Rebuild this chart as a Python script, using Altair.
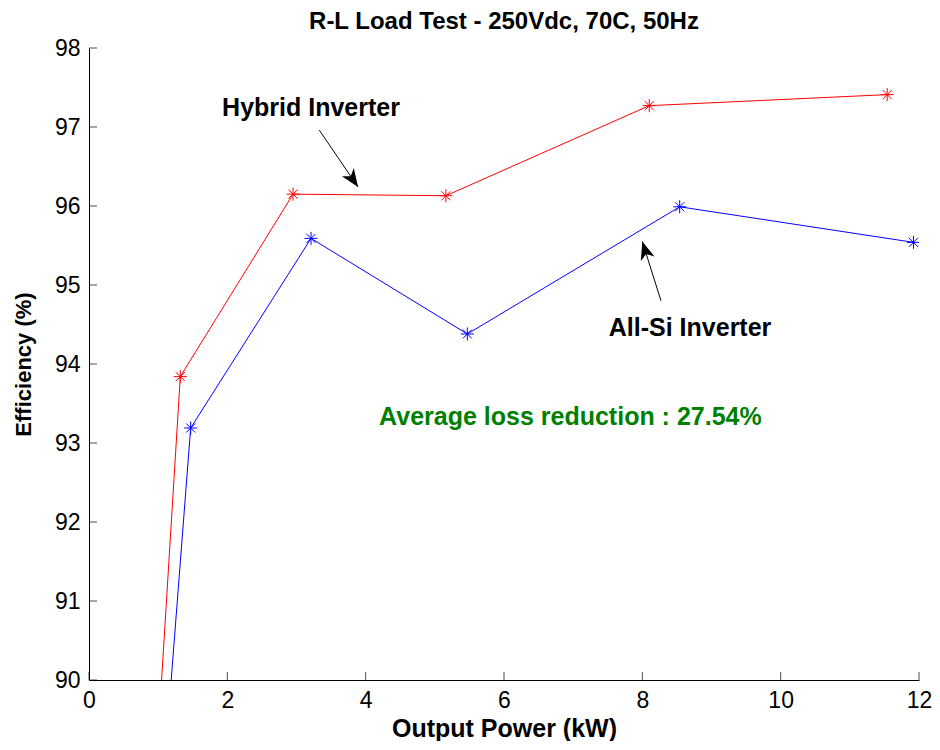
import altair as alt
import pandas as pd

# ---- data ----
hybrid_x = [1.0, 1.32, 2.95, 5.16, 8.10, 11.54]
hybrid_y = [89.3, 93.84, 96.15, 96.13, 97.27, 97.41]
allsi_x = [1.1, 1.47, 3.21, 5.47, 8.54, 11.92]
allsi_y = [89.0, 93.19, 95.59, 94.38, 95.99, 95.54]

x_ticks = [0, 2, 4, 6, 8, 10, 12]
y_ticks = [90, 91, 92, 93, 94, 95, 96, 97, 98]

# annotations: label text and positions (data coords)
label_text = ["Hybrid Inverter", "All-Si Inverter"]
label_x = [3.21, 8.69]
label_y = [97.24, 94.46]
note_text = ["Average loss reduction : 27.54%"]
note_x = [6.96]
note_y = [93.33]
# arrows: tail -> tip
arrow_x = [3.33, 8.27]
arrow_y = [96.96, 94.80]
arrow_x2 = [3.89, 8.00]
arrow_y2 = [96.24, 95.55]
arrow_angle = [145.5, 342.7]

FONT = "Liberation Sans, Arial, Helvetica, sans-serif"
NARROW = "Liberation Sans Narrow, Arial Narrow, Liberation Sans, sans-serif"

df_h = pd.DataFrame({"x": hybrid_x, "y": hybrid_y})
df_s = pd.DataFrame({"x": allsi_x, "y": allsi_y})
df_lab = pd.DataFrame({"x": label_x, "y": label_y, "t": label_text})
df_note = pd.DataFrame({"x": note_x, "y": note_y, "t": note_text})
df_arr = pd.DataFrame({"x": arrow_x, "y": arrow_y, "x2": arrow_x2, "y2": arrow_y2, "a": arrow_angle})
df_xt = pd.DataFrame({"v": x_ticks})
df_yt = pd.DataFrame({"v": y_ticks})

xscale = alt.Scale(domain=[0, 12], nice=False, zero=False)
yscale = alt.Scale(domain=[90, 98], nice=False, zero=False)

xax = alt.Axis(values=x_ticks, grid=False, tickSize=0, labelPadding=9, labelFont=NARROW,
               labelFontSize=23, labelColor="black", domainColor="black", title="Output Power (kW)",
               titleFont=FONT, titleFontSize=25, titleFontWeight="bold", titleColor="black",
               titlePadding=4, labelFlush=False, format="d")
yax = alt.Axis(values=y_ticks, grid=False, tickSize=0, labelPadding=9, labelFont=NARROW,
               labelFontSize=23, labelColor="black", domainColor="black", title="Efficiency (%)",
               titleFont=FONT, titleFontSize=22, titleFontWeight="bold", titleColor="black",
               titlePadding=19, format="d")

X = alt.X("x:Q", scale=xscale, axis=xax)
Y = alt.Y("y:Q", scale=yscale, axis=yax)

ASTER = "M-1,0L1,0M0,-1L0,1M-0.7,-0.7L0.7,0.7M-0.7,0.7L0.7,-0.7"
HEAD = "M0,0L0.4,1L0,0.72L-0.4,1Z"

def series(df, color):
    line = alt.Chart(df).mark_line(color=color, strokeWidth=1, clip=True).encode(x=X, y=Y)
    pts = alt.Chart(df).mark_point(shape=ASTER, color=color, filled=False, size=170,
                                   strokeWidth=1, opacity=1, clip=True).encode(x=X, y=Y)
    return line + pts

xt = alt.Chart(df_xt).mark_tick(orient="vertical", size=8, thickness=1, color="black", yOffset=-4).encode(
    x=alt.X("v:Q", scale=xscale), y=alt.Y(datum=90, scale=yscale))
yt = alt.Chart(df_yt).mark_tick(orient="horizontal", size=8, thickness=1, color="black", xOffset=4).encode(
    y=alt.Y("v:Q", scale=yscale), x=alt.X(datum=0, scale=xscale))

arr_line = alt.Chart(df_arr).mark_rule(color="black", strokeWidth=1).encode(
    x=X, y=Y, x2="x2:Q", y2="y2:Q")
arr_head = alt.Chart(df_arr).mark_point(shape=HEAD, filled=True, color="black", size=1300,
                                        opacity=1).encode(
    x=alt.X("x2:Q", scale=xscale), y=alt.Y("y2:Q", scale=yscale),
    angle=alt.Angle("a:Q", scale=None))

labels = alt.Chart(df_lab).mark_text(font=FONT, fontSize=25, fontWeight="bold", color="black").encode(
    x=X, y=Y, text="t:N")
note = alt.Chart(df_note).mark_text(font=FONT, fontSize=25, fontWeight="bold", color="#008000").encode(
    x=X, y=Y, text="t:N")

chart = alt.layer(
    series(df_h, "#ff0000"), series(df_s, "#0000ff"), xt, yt, arr_line, arr_head, labels, note
).properties(
    width=924, height=733,
    autosize=alt.AutoSizeParams(type="fit", contains="padding"),
    title=alt.TitleParams("R-L Load Test - 250Vdc, 70C, 50Hz", font=FONT, fontSize=24,
                          fontWeight="bold", color="black", offset=3),
    padding={"left": 4, "top": 2, "right": 0, "bottom": 0},
).configure_view(stroke=None).configure_axis(domainWidth=1)

chart.save("out.html", embed_options={"renderer": "svg", "actions": False})
